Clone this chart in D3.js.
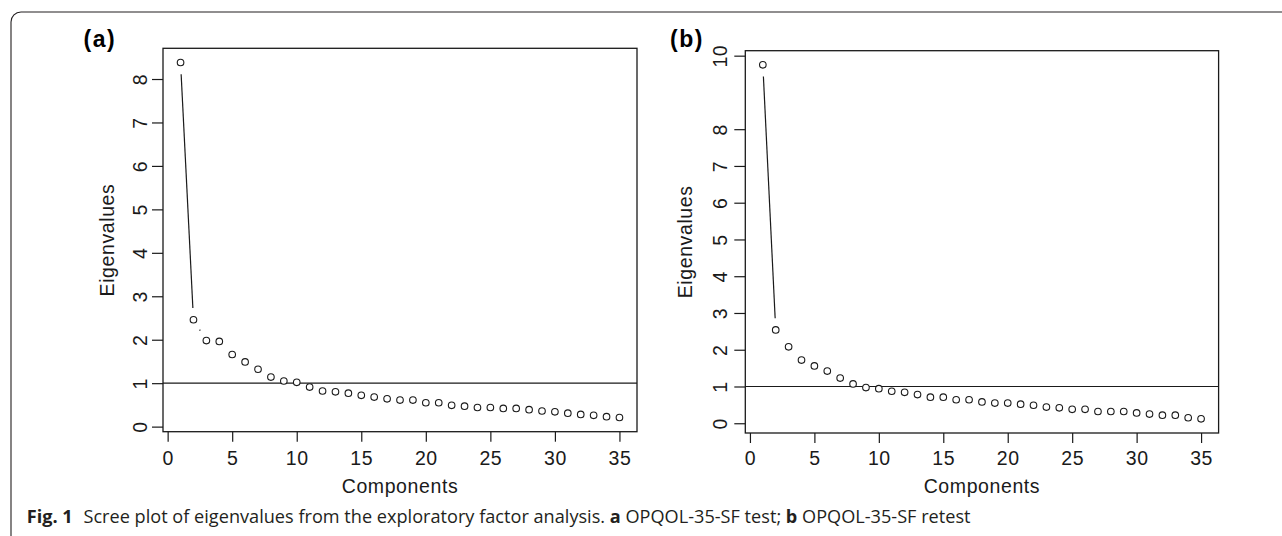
<!DOCTYPE html>
<html>
<head>
<meta charset="utf-8">
<script src="https://cdn.jsdelivr.net/npm/d3@7"></script>
<style>
  html, body { margin: 0; padding: 0; background: #fff; }
  svg { display: block; }
</style>
</head>
<body>
<script>
// chart data
const components = [1, 2, 3, 4, 5, 6, 7, 8, 9, 10, 11, 12, 13, 14, 15, 16, 17, 18,
                    19, 20, 21, 22, 23, 24, 25, 26, 27, 28, 29, 30, 31, 32, 33, 34, 35];
const eigenTest = [8.38, 2.46, 1.98, 1.96, 1.66, 1.49, 1.32, 1.14, 1.05, 1.02, 0.91, 0.82,
                   0.80, 0.77, 0.72, 0.68, 0.64, 0.61, 0.61, 0.55, 0.55, 0.49, 0.47, 0.44,
                   0.44, 0.42, 0.42, 0.39, 0.36, 0.34, 0.31, 0.28, 0.26, 0.23, 0.21];
const eigenRetest = [9.75, 2.54, 2.08, 1.72, 1.56, 1.42, 1.23, 1.07, 0.97, 0.94, 0.87, 0.84,
                     0.78, 0.71, 0.71, 0.64, 0.64, 0.58, 0.55, 0.55, 0.52, 0.49, 0.44, 0.42,
                     0.38, 0.38, 0.32, 0.32, 0.32, 0.28, 0.25, 0.22, 0.22, 0.15, 0.12];
const xTicks = [0, 5, 10, 15, 20, 25, 30, 35];
const yTicksTest = [0, 1, 2, 3, 4, 5, 6, 7, 8];
const yTicksRetest = [0, 1, 2, 3, 4, 5, 6, 7, 8, 10];
const cutoff = 1;
const panelLabels = ["(a)", "(b)"];

const width = 1282, height = 536;
const ink = "#1a1a1a";
const axisFont = "'Liberation Sans', Arial, Helvetica, sans-serif";

const svg = d3.select("body").append("svg")
  .attr("width", width)
  .attr("height", height);

// page frame: top rule + left rule with a rounded corner
svg.append("path")
  .attr("d", "M11,536 L11,22 A10,10 0 0 1 21,12 L1282,12")
  .attr("fill", "none")
  .attr("stroke", "#231f20")
  .attr("stroke-width", 1.1);

// R style axis range: data extent padded 4% on both sides
const rPad = ([lo, hi]) => [lo - 0.04 * (hi - lo), hi + 0.04 * (hi - lo)];

const panels = [
  { label: panelLabels[0], values: eigenTest, yTicks: yTicksTest,
    box: { l: 163, r: 637, t: 48.3, b: 431.7 }, labelX: 83.5,
    yTickOff: -16.5, yTitleOff: -49.5, xTickOff: 33, xTitleY: 493 },
  { label: panelLabels[1], values: eigenRetest, yTicks: yTicksRetest,
    box: { l: 745.3, r: 1218.6, t: 50.7, b: 433 }, labelX: 670,
    yTickOff: -18, yTitleOff: -53.5, xTickOff: 31.5, xTitleY: 492.5 }
];

const gap = 11.7; // type = "b" line gap around each point

panels.forEach(p => {
  const x = d3.scaleLinear().domain(rPad(d3.extent(components))).range([p.box.l, p.box.r]);
  const y = d3.scaleLinear().domain(rPad(d3.extent(p.values))).range([p.box.b, p.box.t]);
  const g = svg.append("g");

  // y axis with labels parallel to the axis
  const ya = g.append("g")
    .attr("transform", `translate(${p.box.l},0)`)
    .call(d3.axisLeft(y).tickValues(p.yTicks).tickSize(11).tickFormat(d3.format("d")))
    .attr("font-family", axisFont)
    .attr("font-size", 19.5)
    .attr("color", ink);
  ya.select(".domain").remove();
  ya.selectAll("line").attr("stroke-width", 1.2);
  ya.selectAll("text")
    .attr("transform", "rotate(-90)")
    .attr("x", 0)
    .attr("y", p.yTickOff)
    .attr("dy", 0)
    .attr("text-anchor", "middle")
    .attr("letter-spacing", 0.6)
    .attr("fill", ink);

  // x axis
  const xa = g.append("g")
    .attr("transform", `translate(0,${p.box.b})`)
    .call(d3.axisBottom(x).tickValues(xTicks).tickSize(10))
    .attr("font-family", axisFont)
    .attr("font-size", 19.5)
    .attr("color", ink);
  xa.select(".domain").remove();
  xa.selectAll("line").attr("stroke-width", 1.2);
  xa.selectAll("text")
    .attr("y", p.xTickOff)
    .attr("dy", 0)
    .attr("letter-spacing", 0.6)
    .attr("fill", ink);

  // axis titles
  g.append("text")
    .attr("transform", `translate(${p.box.l + p.yTitleOff},${(p.box.t + p.box.b) / 2}) rotate(-90)`)
    .attr("text-anchor", "middle")
    .attr("font-family", axisFont)
    .attr("font-size", 19.5)
    .attr("letter-spacing", 0.6)
    .attr("fill", ink)
    .text("Eigenvalues");

  g.append("text")
    .attr("x", (p.box.l + p.box.r) / 2)
    .attr("y", p.xTitleY)
    .attr("text-anchor", "middle")
    .attr("font-family", axisFont)
    .attr("font-size", 19.5)
    .attr("letter-spacing", 0.6)
    .attr("fill", ink)
    .text("Components");

  // panel tag
  g.append("text")
    .attr("x", p.labelX)
    .attr("y", 46.5)
    .attr("font-family", axisFont)
    .attr("font-size", 23)
    .attr("font-weight", "bold")
    .attr("letter-spacing", 1.5)
    .attr("fill", "#000")
    .text(p.label);

  // plot box
  g.append("rect")
    .attr("x", p.box.l)
    .attr("y", p.box.t)
    .attr("width", p.box.r - p.box.l)
    .attr("height", p.box.b - p.box.t)
    .attr("fill", "none")
    .attr("stroke", ink)
    .attr("stroke-width", 1.3);

  // Kaiser cutoff line
  g.append("line")
    .attr("x1", p.box.l).attr("x2", p.box.r)
    .attr("y1", y(cutoff)).attr("y2", y(cutoff))
    .attr("stroke", ink)
    .attr("stroke-width", 1.2);

  // connecting segments, gapped around the points
  const pts = components.map((c, i) => [x(c), y(p.values[i])]);
  const segs = d3.pairs(pts).map(([a, b]) => {
    const dx = b[0] - a[0], dy = b[1] - a[1], len = Math.hypot(dx, dy);
    if (len <= 2 * gap) return null;
    const ux = dx / len, uy = dy / len;
    return [a[0] + ux * gap, a[1] + uy * gap, b[0] - ux * gap, b[1] - uy * gap];
  }).filter(s => s);

  g.selectAll(".seg")
    .data(segs)
    .enter()
    .append("line")
    .attr("class", "seg")
    .attr("x1", d => d[0]).attr("y1", d => d[1])
    .attr("x2", d => d[2]).attr("y2", d => d[3])
    .attr("stroke", ink)
    .attr("stroke-width", 1.2);

  g.selectAll(".pt")
    .data(p.values)
    .enter()
    .append("circle")
    .attr("class", "pt")
    .attr("cx", (d, i) => x(components[i]))
    .attr("cy", d => y(d))
    .attr("r", 3.3)
    .attr("fill", "#fff")
    .attr("stroke", ink)
    .attr("stroke-width", 1.1);
});

// figure caption
const capFont = "'Open Sans', 'Noto Sans', sans-serif";
const cap = svg.append("g");
const capText = cap.append("text")
  .attr("font-family", capFont)
  .attr("font-size", 18.5)
  .attr("fill", "#231f20");
capText.append("tspan").attr("font-weight", "bold").text("Fig. 1");
capText.append("tspan").attr("dx", 11).text("Scree plot of eigenvalues from the exploratory factor analysis. ");
capText.append("tspan").attr("font-weight", "bold").text("a");
capText.append("tspan").text(" OPQOL-35-SF test; ");
capText.append("tspan").attr("font-weight", "bold").text("b");
capText.append("tspan").text(" OPQOL-35-SF retest");

const capWidth = capText.node().getBBox().width;
cap.attr("transform", `translate(26.7,523.3) scale(${945 / capWidth},1)`);
</script>
</body>
</html>
